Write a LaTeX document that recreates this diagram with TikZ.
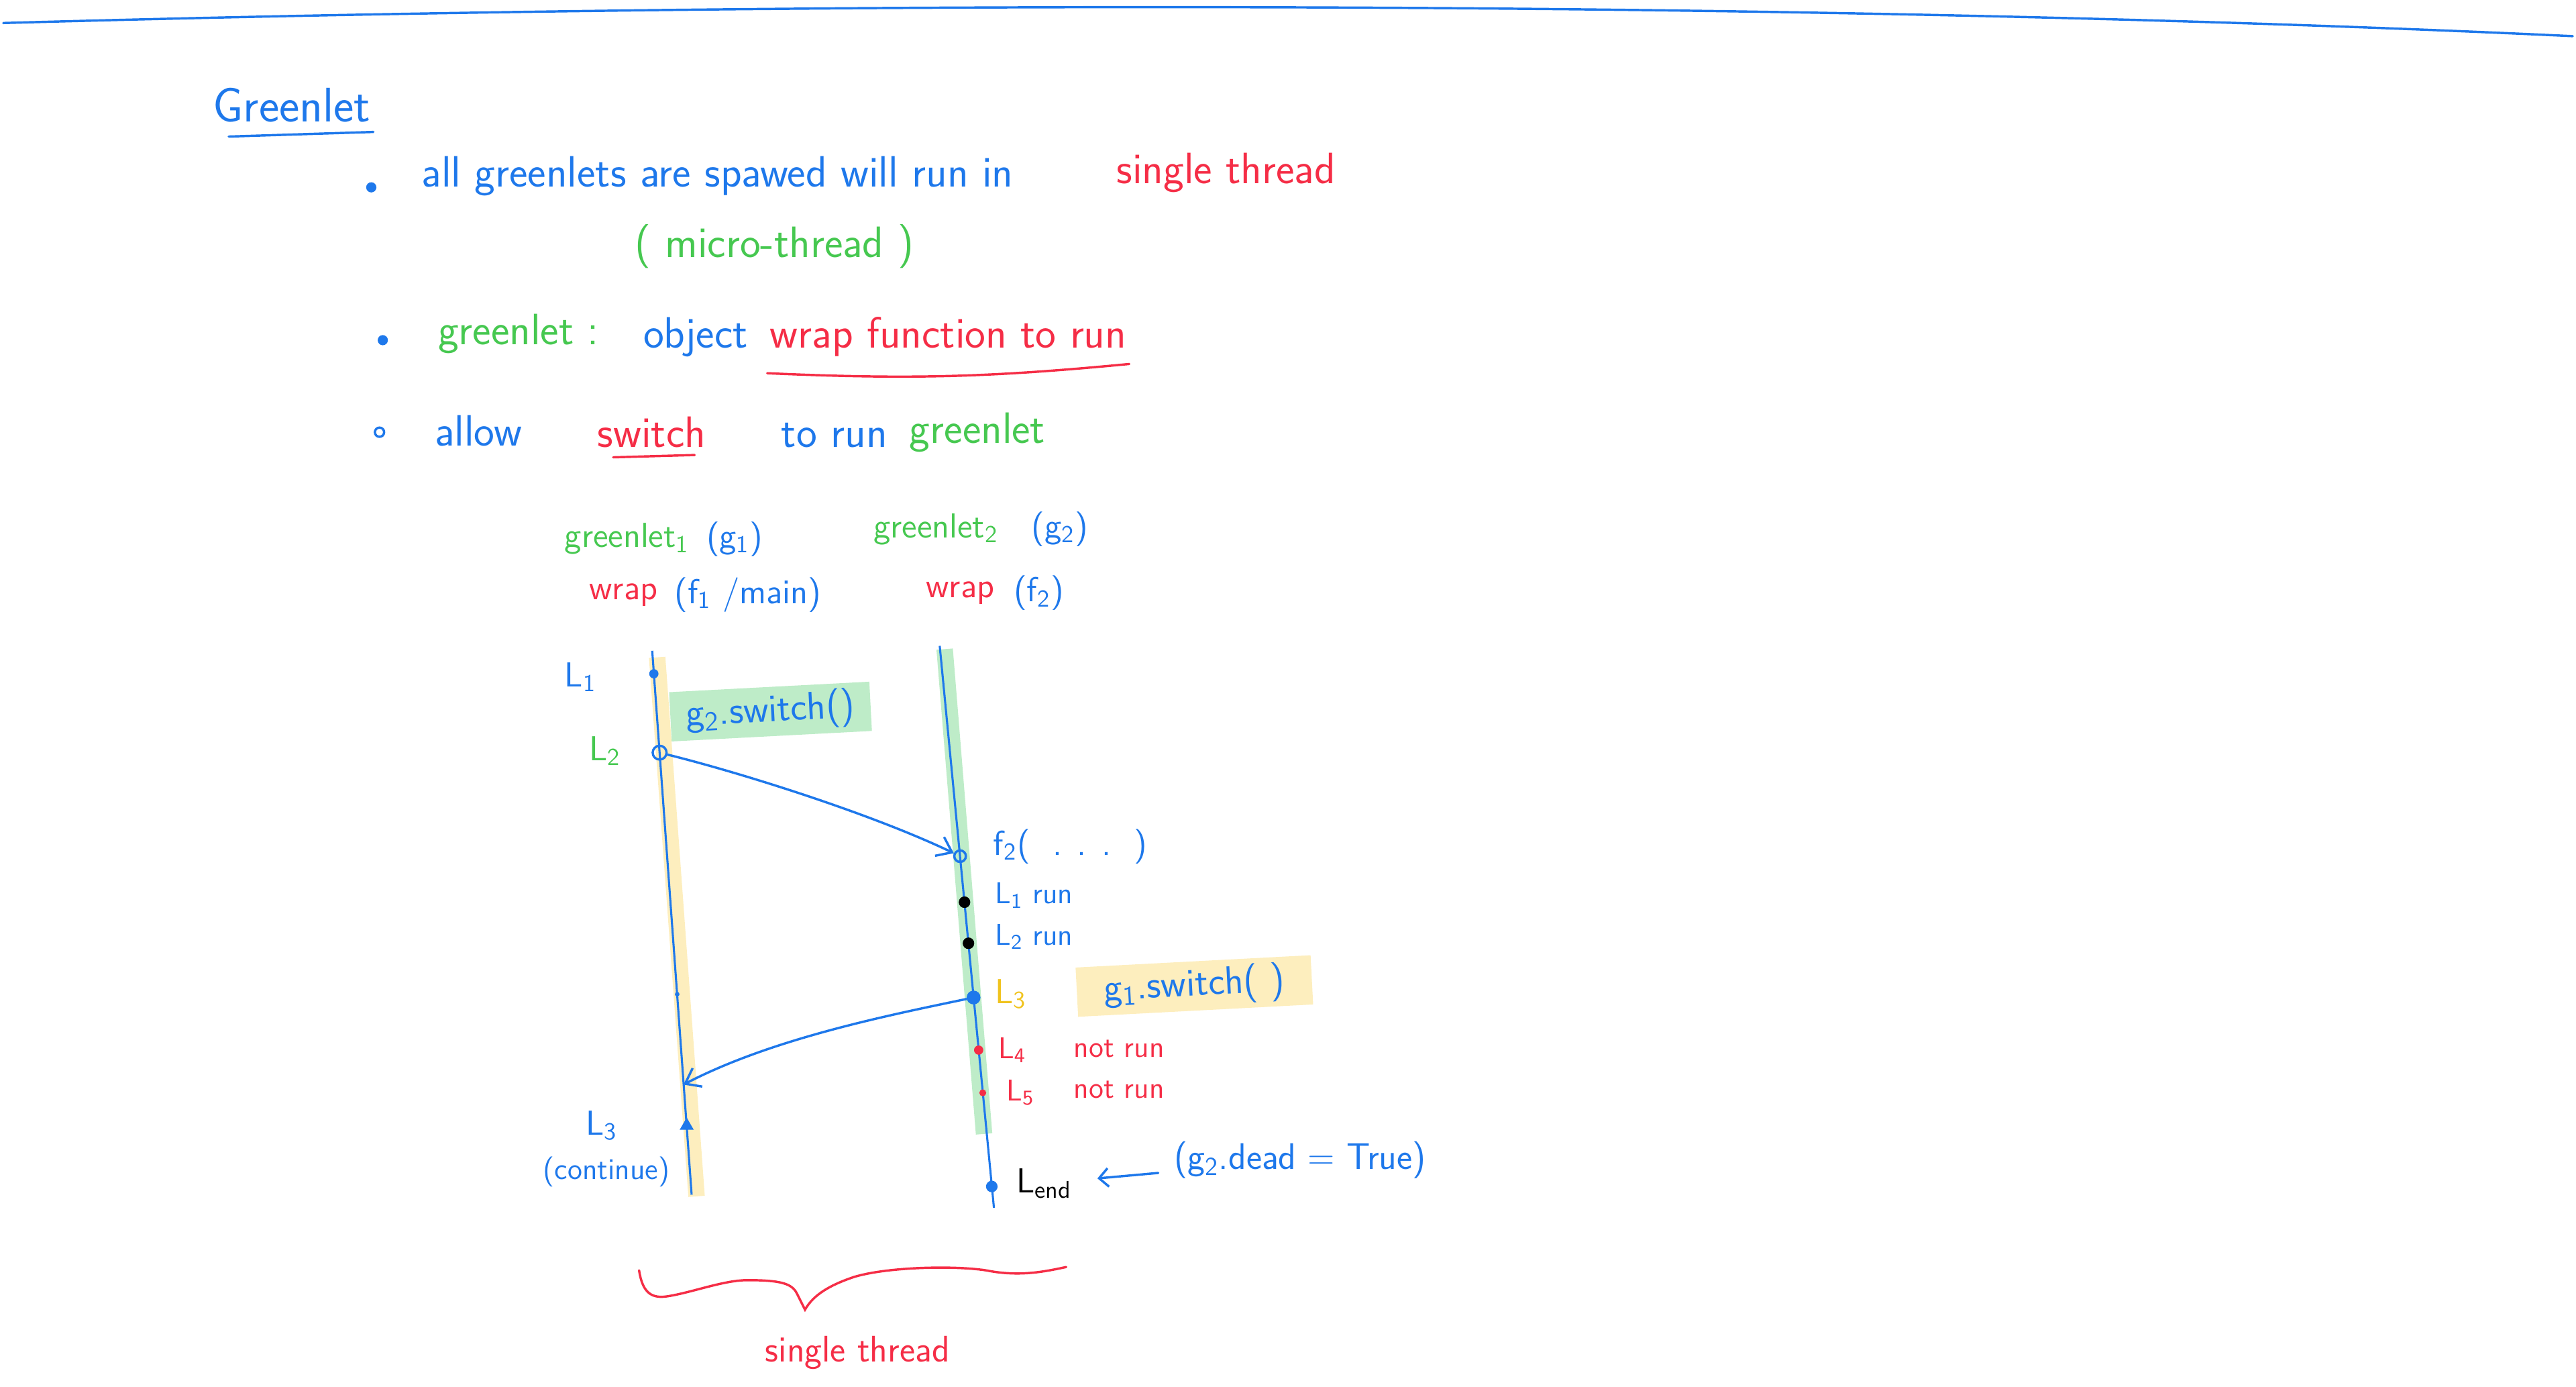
\documentclass[tikz,border=0pt]{standalone}
\usepackage{tikz}
\usetikzlibrary{positioning,arrows.meta,shapes.geometric}
\definecolor{inkblue}{RGB}{30,120,235}
\definecolor{inkred}{RGB}{245,45,70}
\definecolor{inkgreen}{RGB}{70,200,80}
\definecolor{inkyellow}{RGB}{240,195,30}
\definecolor{hlyellow}{RGB}{253,238,190}
\definecolor{hlgreen}{RGB}{190,236,200}

\begin{document}
\begin{tikzpicture}[x=0.025cm,y=-0.025cm,
  txt/.style={font=\sffamily\fontsize{19}{22}\selectfont, inner sep=1pt},
  lbl/.style={font=\sffamily\fontsize{15}{18}\selectfont, inner sep=1pt},
  sml/.style={font=\sffamily\fontsize{13}{15}\selectfont, inner sep=1pt},
  hl/.style={font=\sffamily\fontsize{17}{19}\selectfont, text=inkblue, rotate=3,
             minimum height=0.75cm, inner sep=2pt},
  bul/.style={circle, draw=inkblue, fill=inkblue, inner sep=0pt, minimum size=4pt},
  pt/.style={circle, fill=inkblue, inner sep=0pt, minimum size=5pt},
  ink/.style={line width=1pt, line cap=round},
  arr/.style={ink, inkblue, -{Straight Barb[length=6pt,width=9pt]}}]
\useasboundingbox (0,0) rectangle (1568,844);

% top rule
\draw[ink, inkblue] (2,14) .. controls (500,0) and (1100,0) .. (1566,22);

% heading
\node[txt, font=\sffamily\fontsize{21}{24}\selectfont, text=inkblue, anchor=west] (title) at (128,64) {Greenlet};
\draw[ink, inkblue] ([xshift=8pt,yshift=-5pt]title.south west) -- ([yshift=-3pt]title.south east);

% bullet points
\node[bul] (b1) at (226,114) {};
\node[txt, text=inkblue, anchor=west] (t1) at (255,107) {all greenlets are spawed will run in};
\node[txt, text=inkred, anchor=west] (t1r) at (678,105) {single thread};
\node[txt, text=inkgreen, anchor=west] (micro) at (385,150) {( micro-thread )};

\node[bul] (b2) at (233,207) {};
\node[txt, text=inkgreen, anchor=west] (t2) at (265,203) {greenlet :};
\node[txt, text=inkblue, anchor=west] (obj) at (390,205) {object};
\node[txt, text=inkred, anchor=west] (wrapf) at (467,205) {wrap function to run};
\draw[ink, inkred] ([yshift=-6pt]wrapf.south west) to[bend right=4] ([yshift=-2pt]wrapf.south east);

\node[bul, fill=white, line width=1pt] (b3) at (231,263) {};
\node[txt, text=inkblue, anchor=west] (t3) at (263,262) {allow};
\node[txt, text=inkred, anchor=west] (sw) at (362,263) {switch};
\draw[ink, inkred] ([xshift=8pt,yshift=-3pt]sw.south west) -- ([xshift=-6pt,yshift=-2pt]sw.south east);
\node[txt, text=inkblue, anchor=west] (torun) at (474,265) {to run};
\node[txt, text=inkgreen, anchor=west] (gl) at (552,263) {greenlet};

% column headers
\node[lbl, text=inkgreen, anchor=west] (gl1) at (342,328) {greenlet\textsubscript{1}};
\node[lbl, text=inkblue, right=5pt of gl1] (g1) {(g\textsubscript{1})};
\node[lbl, text=inkred, anchor=west] (wr1) at (357,362) {wrap};
\node[lbl, text=inkblue, right=5pt of wr1] (f1) {(f\textsubscript{1} /main)};
\node[lbl, text=inkgreen, anchor=west] (gl2) at (530,322) {greenlet\textsubscript{2}};
\node[lbl, text=inkblue, right=12pt of gl2] (g2) {(g\textsubscript{2})};
\node[lbl, text=inkred, anchor=west] (wr2) at (562,361) {wrap};
\node[lbl, text=inkblue, right=6pt of wr2] (f2) {(f\textsubscript{2})};

% timelines
\coordinate (atop) at (397,396);
\coordinate (abot) at (421,727);
\coordinate (btop) at (572,393);
\coordinate (bbot) at (605,735);
\draw[line width=0.25cm, hlyellow] (400,400) -- (424,728);
\draw[line width=0.25cm, hlgreen] (575,395) -- (599,690);
\draw[inkblue, line width=0.9pt] (atop) -- (abot);
\draw[inkblue, line width=0.9pt] (btop) -- (bbot);

% points on g1
\node[pt, minimum size=4pt] (p1) at (398,410) {};
\node[circle, draw=inkblue, line width=1pt, inner sep=0pt, minimum size=6pt] (p2) at (401.5,458) {};
\node[pt, minimum size=2pt] (p3) at (412.2,605) {};
\coordinate (back) at (416,660);
\node[regular polygon, regular polygon sides=3, fill=inkblue, inner sep=0pt, minimum size=7pt] (p4) at (418,685) {};

% points on g2
\node[circle, draw=inkblue, line width=1pt, inner sep=0pt, minimum size=5pt] (f2in) at (584.4,521) {};
\node[pt, fill=black] (r1) at (587.1,549) {};
\node[pt, fill=black] (r2) at (589.5,574) {};
\node[pt, minimum size=6pt] (r3) at (592.6,607) {};
\node[pt, fill=inkred, minimum size=4pt] (r4) at (595.7,639) {};
\node[pt, fill=inkred, minimum size=3pt] (r5) at (598.2,665) {};
\node[pt, minimum size=5pt] (lend) at (603.7,722) {};

% labels on g1
\node[lbl, text=inkblue, anchor=west] (l1) at (342,412) {L\textsubscript{1}};
\node[lbl, text=inkgreen, anchor=west] (l2) at (357,457) {L\textsubscript{2}};
\node[hl, fill=hlgreen, minimum width=3.05cm] (sw2) at (469,433) {g\textsubscript{2}.switch()};
\node[lbl, text=inkblue, anchor=west] (l3l) at (355,685) {L\textsubscript{3}};
\node[sml, text=inkblue, anchor=west] (cont) at (329,713) {(continue)};

% labels on g2
\node[lbl, text=inkblue, anchor=west] (f2call) at (603,515) {f\textsubscript{2}(\ \ . . .\ \ )};
\node[sml, text=inkblue, anchor=west] (run1) at (604,545) {L\textsubscript{1} run};
\node[sml, text=inkblue, anchor=west] (run2) at (604,570) {L\textsubscript{2} run};
\node[lbl, text=inkyellow, anchor=west] (l3r) at (604,605) {L\textsubscript{3}};
\node[hl, fill=hlyellow, minimum width=3.58cm] (sw1) at (727,600) {g\textsubscript{1}.switch( )};
\node[sml, text=inkred, anchor=west] (l4) at (606,639) {L\textsubscript{4}};
\node[sml, text=inkred, anchor=west] (nr4) at (652,638) {not run};
\node[sml, text=inkred, anchor=west] (l5) at (611,665) {L\textsubscript{5}};
\node[sml, text=inkred, anchor=west] (nr5) at (652,663) {not run};
\node[lbl, text=black, anchor=west] (lendl) at (617,720) {L\textsubscript{end}};
\node[lbl, font=\sffamily\fontsize{16}{19}\selectfont, text=inkblue, anchor=west] (dead) at (713,706) {(g\textsubscript{2}.dead = True)};

% switches
\draw[arr] (p2) .. controls (450,470) and (530,495) .. (f2in);
\draw[arr] (r3) .. controls (540,618) and (470,632) .. (back);
\draw[arr, -{Straight Barb[length=4pt,width=8pt]}, shorten >=0.35cm, shorten <=0.2cm] (dead) -- (lendl);

% single thread brace
\draw[ink, inkred] (389,773) .. controls (391,786) and (396,790) .. (405,789)
  .. controls (420,787) and (440,779) .. (455,779)
  .. controls (475,779) and (482,781) .. (485,787)
  -- (490,797)
  .. controls (495,788) and (505,782) .. (520,777)
  .. controls (540,771) and (580,770) .. (600,773)
  .. controls (620,777) and (635,774) .. (649,771);
\node[sml, font=\sffamily\fontsize{16}{19}\selectfont, text=inkred] (single) at (522,823) {single thread};
\end{tikzpicture}
\end{document}
